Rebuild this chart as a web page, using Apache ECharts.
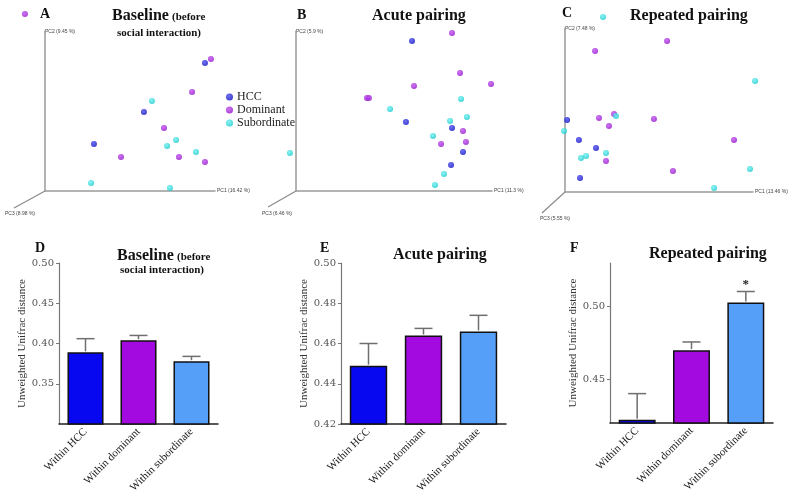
<!DOCTYPE html>
<html><head><meta charset="utf-8">
<script src="https://cdn.jsdelivr.net/npm/echarts@6/dist/echarts.min.js"></script>
<style>html,body{margin:0;padding:0;background:#fff}#c{width:800px;height:497px}</style>
</head><body><div id="c"></div>
<script>
// ---------- DATA ----------
const groups = ['HCC', 'Dominant', 'Subordinate'];
// PCoA coordinates (relative units)
const baselineHCC = [[94.1, 80], [58.2, 49.4], [28.8, 29.4]];
const baselineDominant = [[97.6, 82.5], [86.5, 61.9], [70, 39.4], [44.7, 21.3], [78.8, 21.3], [94.1, 18.1], [-11.8, 110.6]];
const baselineSubordinate = [[62.9, 56.3], [77.1, 31.9], [71.8, 28.1], [88.8, 24.4], [27.1, 5], [73.5, 1.9]];
const acuteHCC = [[59.2, 93.8], [56.1, 43.1], [79.6, 39.4], [85.2, 24.4], [79.1, 16.3]];
const acuteDominant = [[79.6, 98.8], [83.7, 73.8], [99.5, 66.9], [60.2, 65.6], [36.2, 58.1], [37.2, 58.1], [85.2, 37.5], [86.7, 30.6], [74, 29.4]];
const acuteSubordinate = [[84.2, 57.5], [48, 51.3], [87.2, 46.3], [78.6, 43.8], [69.9, 34.4], [-3.1, 23.8], [75.5, 10.6], [70.9, 3.8]];
const repeatedHCC = [[1.1, 43.9], [7.4, 31.7], [16.5, 26.8], [8, 8.5]];
const repeatedDominant = [[54.3, 92.1], [16, 86], [26.1, 47.6], [18.1, 45.1], [23.4, 40.2], [47.3, 44.5], [89.9, 31.7], [21.8, 18.9], [57.4, 12.8]];
const repeatedSubordinate = [[20.2, 106.7], [101.1, 67.7], [27.1, 46.3], [-0.5, 37.2], [21.8, 23.8], [11.2, 22], [8.5, 20.7], [98.4, 14], [79.3, 2.4]];
const axisNamesA = ['PC1 (16.42 %)', 'PC2 (9.45 %)', 'PC3 (8.98 %)'];
const axisNamesB = ['PC1 (11.3 %)', 'PC2 (5.9 %)', 'PC3 (6.46 %)'];
const axisNamesC = ['PC1 (13.46 %)', 'PC2 (7.48 %)', 'PC3 (5.55 %)'];

const barCategories = ['Within HCC', 'Within dominant', 'Within subordinate'];
const baselineMeans = [0.389, 0.404, 0.378];
const baselineErrs = [0.017, 0.006, 0.006];
const acuteMeans = [0.449, 0.464, 0.466];
const acuteErrs = [0.011, 0.0035, 0.008];
const repeatedMeans = [0.4222, 0.4701, 0.5028];
const repeatedErrs = [0.018, 0.0056, 0.0076];
const repeatedSig = ['', '', '*'];
const baselineTicks = [0.35, 0.40, 0.45, 0.50];
const acuteTicks = [0.42, 0.44, 0.46, 0.48, 0.50];
const repeatedTicks = [0.45, 0.50];
const yTitle = 'Unweighted Unifrac distance';

// ---------- STYLE ----------
const SERIF = '"Liberation Serif", "Times New Roman", serif';
const dotColors = ['#0c0cc0', '#9010c8', '#10c8cc'];
const dotLights = ['#4a4af0', '#c050f0', '#70f0f0'];
const barColors = ['#0808f0', '#a20ae0', '#559ff8'];

function sphere(i) {
  return {type: 'radial', x: 0.4, y: 0.35, r: 0.7,
    colorStops: [{offset: 0, color: dotLights[i]}, {offset: 1, color: dotColors[i]}]};
}

const scatterGrids = [
  {left: 45, top: 31, width: 170, height: 160},
  {left: 296, top: 31, width: 196, height: 160},
  {left: 565, top: 28, width: 188, height: 164}
];
const barGrids = [
  {left: 59, top: 263, width: 159, height: 161},
  {left: 341, top: 263, width: 165, height: 161},
  {left: 610, top: 263, width: 163, height: 160}
];

const smallName = {fontSize: 5, color: '#444', fontFamily: 'Liberation Sans'};

const xAxes = [], yAxes = [], series = [];
const names = [axisNamesA, axisNamesB, axisNamesC];
const pcoa = [
  [baselineHCC, baselineDominant, baselineSubordinate],
  [acuteHCC, acuteDominant, acuteSubordinate],
  [repeatedHCC, repeatedDominant, repeatedSubordinate]
];
scatterGrids.forEach((g, gi) => {
  xAxes.push({type: 'value', gridIndex: gi, min: 0, max: 100,
    axisLine: {show: true, onZero: false, lineStyle: {color: '#9a9a9a', width: 1.5}},
    axisTick: {show: false}, axisLabel: {show: false}, splitLine: {show: false},
    name: names[gi][0], nameLocation: 'end', nameGap: 2,
    nameTextStyle: Object.assign({align: 'left', verticalAlign: 'middle'}, smallName)});
  yAxes.push({type: 'value', gridIndex: gi, min: 0, max: 100,
    axisLine: {show: true, onZero: false, lineStyle: {color: '#9a9a9a', width: 1.5}},
    axisTick: {show: false}, axisLabel: {show: false}, splitLine: {show: false},
    name: names[gi][1], nameLocation: 'end', nameGap: -1,
    nameTextStyle: Object.assign({align: 'left', verticalAlign: 'middle'}, smallName)});
  pcoa[gi].forEach((d, k) => {
    series.push({type: 'scatter', name: groups[k], xAxisIndex: gi, yAxisIndex: gi,
      data: d, symbolSize: 6, clip: false, z: 3, itemStyle: {color: sphere(k)}});
  });
});

const barSets = [
  {means: baselineMeans, errs: baselineErrs, min: 0.30, max: 0.50, ticks: baselineTicks, gap: 31, sig: null},
  {means: acuteMeans, errs: acuteErrs, min: 0.42, max: 0.50, ticks: acuteTicks, gap: 27, sig: null},
  {means: repeatedMeans, errs: repeatedErrs, min: 0.42, max: 0.53, ticks: repeatedTicks, gap: 31, sig: repeatedSig}
];
barSets.forEach((b, k) => {
  const gi = 3 + k;
  xAxes.push({type: 'category', gridIndex: gi, data: barCategories,
    axisLine: {lineStyle: {color: '#222', width: 1.5}}, axisTick: {show: false},
    axisLabel: {rotate: 45, interval: 0, fontFamily: SERIF, fontSize: 11, color: '#1a1a1a', margin: 6}});
  yAxes.push({type: 'value', gridIndex: gi, min: b.min, max: b.max,
    axisLine: {show: true, lineStyle: {color: '#777', width: 1.2}},
    axisTick: {show: true, length: 3, customValues: b.ticks, lineStyle: {color: '#777'}},
    axisLabel: {customValues: b.ticks, formatter: v => v.toFixed(2), fontFamily: '"DejaVu Serif", serif', fontSize: 10, color: '#555', margin: 5},
    splitLine: {show: false},
    name: yTitle, nameLocation: 'middle', nameGap: b.gap,
    nameTextStyle: {fontFamily: SERIF, fontSize: 11, color: '#333'}});
  series.push({type: 'bar', name: 'bars' + k, xAxisIndex: gi, yAxisIndex: gi, barWidth: '68%',
    data: b.means.map((v, i) => ({value: v, itemStyle: {color: barColors[i]}})),
    itemStyle: {borderColor: '#111', borderWidth: 1.5}, z: 2});
  const sig = b.sig;
  series.push({type: 'custom', name: 'err' + k, xAxisIndex: gi, yAxisIndex: gi, z: 4,
    data: b.means.map((v, i) => [i, v, v + b.errs[i]]),
    renderItem(params, api) {
      const i = api.value(0);
      const p0 = api.coord([i, api.value(1)]);
      const p1 = api.coord([i, api.value(2)]);
      const st = {stroke: '#6f6f6f', lineWidth: 1.5};
      const children = [
        {type: 'line', shape: {x1: p0[0], y1: p0[1] - 1, x2: p1[0], y2: p1[1]}, style: st},
        {type: 'line', shape: {x1: p1[0] - 9, y1: p1[1], x2: p1[0] + 9, y2: p1[1]}, style: st}
      ];
      const s = sig && sig[params.dataIndex];
      if (s) children.push({type: 'text', x: p1[0], y: p1[1] - 7,
        style: {text: s, font: 'bold 13px ' + SERIF, textAlign: 'center', textVerticalAlign: 'middle', fill: '#222'}});
      return {type: 'group', children};
    }});
});

function txt(x, y, text, font, align) {
  return {type: 'text', x, y, style: {text, font, fill: '#111', textAlign: align || 'left', textVerticalAlign: 'middle'}};
}
const TB = 'bold 16px ' + SERIF, TS = 'bold 11px ' + SERIF, TL = 'bold 14px ' + SERIF;
const graphics = [
  txt(40, 14, 'A', TL), txt(297, 15, 'B', TL), txt(562, 13, 'C', TL),
  txt(35, 248, 'D', TL), txt(320, 248, 'E', TL), txt(570, 248, 'F', TL),
  txt(112, 16, 'Baseline', TB), txt(172, 17, '(before', TS), txt(117, 33, 'social interaction)', TS),
  txt(372, 16, 'Acute pairing', TB), txt(630, 16, 'Repeated pairing', TB),
  txt(117, 256, 'Baseline', TB), txt(177, 257, '(before', TS), txt(120, 270, 'social interaction)', TS),
  txt(393, 255, 'Acute pairing', TB), txt(649, 254, 'Repeated pairing', TB),
  // PC3 depth axes (decoration)
  {type: 'line', shape: {x1: 45, y1: 191, x2: 14, y2: 208}, style: {stroke: '#8a8a8a', lineWidth: 1.2}},
  {type: 'line', shape: {x1: 296, y1: 191, x2: 268, y2: 207}, style: {stroke: '#8a8a8a', lineWidth: 1.2}},
  {type: 'line', shape: {x1: 565, y1: 192, x2: 542, y2: 213}, style: {stroke: '#8a8a8a', lineWidth: 1.2}},
  {type: 'text', x: 5, y: 214, style: {text: axisNamesA[2], font: '5px "Liberation Sans"', fill: '#444', textVerticalAlign: 'middle'}},
  {type: 'text', x: 262, y: 214, style: {text: axisNamesB[2], font: '5px "Liberation Sans"', fill: '#444', textVerticalAlign: 'middle'}},
  {type: 'text', x: 540, y: 219, style: {text: axisNamesC[2], font: '5px "Liberation Sans"', fill: '#444', textVerticalAlign: 'middle'}}
];

const chart = echarts.init(document.getElementById('c'), null, {renderer: 'canvas'});
chart.setOption({
  animation: false,
  backgroundColor: '#fff',
  grid: scatterGrids.concat(barGrids).map(g => Object.assign({containLabel: false}, g)),
  xAxis: xAxes, yAxis: yAxes, series,
  legend: {data: groups, orient: 'vertical', left: 221, top: 86, itemWidth: 7, itemHeight: 7, itemGap: 1,
    icon: 'circle', selectedMode: false,
    textStyle: {fontFamily: SERIF, fontSize: 12, color: '#222', padding: [0, 0, 0, -1]}},
  graphic: graphics
});
</script></body></html>
